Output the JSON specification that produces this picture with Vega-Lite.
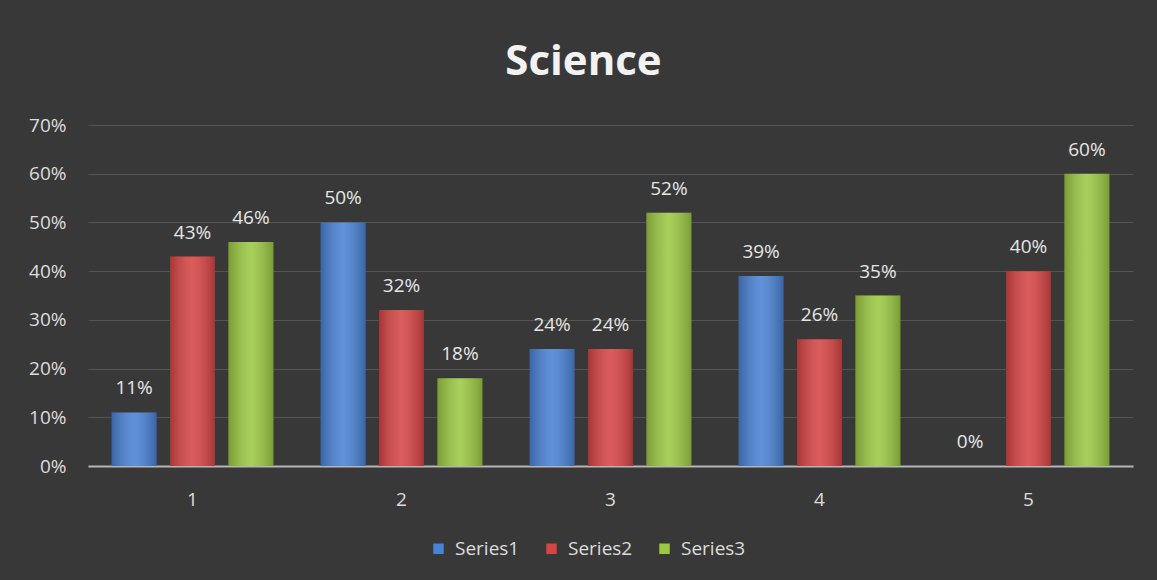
{
  "$schema": "https://vega.github.io/schema/vega-lite/v6.json",
  "width": 1045,
  "height": 341,
  "autosize": {"type": "none"},
  "padding": {"left": 88, "top": 125, "right": 24, "bottom": 114},
  "background": "#383838",
  "config": {"view": {"stroke": null}},
  "title": {
    "text": "Science",
    "fontSize": 42,
    "fontWeight": "bold",
    "font": "Open Sans",
    "color": "#f2f2f2",
    "anchor": "middle",
    "dx": -27,
    "offset": 32
  },
  "data": {
    "values": [
      {"cat": "1", "series": "Series1", "value": 0.11},
      {"cat": "1", "series": "Series2", "value": 0.43},
      {"cat": "1", "series": "Series3", "value": 0.46},
      {"cat": "2", "series": "Series1", "value": 0.50},
      {"cat": "2", "series": "Series2", "value": 0.32},
      {"cat": "2", "series": "Series3", "value": 0.18},
      {"cat": "3", "series": "Series1", "value": 0.24},
      {"cat": "3", "series": "Series2", "value": 0.24},
      {"cat": "3", "series": "Series3", "value": 0.52},
      {"cat": "4", "series": "Series1", "value": 0.39},
      {"cat": "4", "series": "Series2", "value": 0.26},
      {"cat": "4", "series": "Series3", "value": 0.35},
      {"cat": "5", "series": "Series1", "value": 0.0},
      {"cat": "5", "series": "Series2", "value": 0.40},
      {"cat": "5", "series": "Series3", "value": 0.60}
    ]
  },
  "encoding": {
    "x": {
      "field": "cat",
      "type": "nominal",
      "scale": {"paddingInner": 0.226, "paddingOuter": 0.113},
      "axis": {
        "title": null,
        "labelAngle": 0,
        "labelFontSize": 19,
        "labelFont": "Open Sans",
        "labelColor": "#dddddd",
        "labelPadding": 24,
        "ticks": false,
        "domainColor": "#b5b5b5",
        "domainWidth": 2,
        "grid": false
      }
    },
    "xOffset": {
      "field": "series",
      "type": "nominal",
      "scale": {"paddingInner": 0.23, "paddingOuter": 0}
    },
    "y": {
      "field": "value",
      "type": "quantitative",
      "scale": {"domain": [0, 0.7], "nice": false},
      "axis": {
        "title": null,
        "values": [0, 0.1, 0.2, 0.3, 0.4, 0.5, 0.6, 0.7],
        "format": ".0%",
        "labelFontSize": 19,
        "labelFont": "Open Sans",
        "labelColor": "#dddddd",
        "labelPadding": 22,
        "ticks": false,
        "domain": false,
        "grid": true,
        "gridColor": "#555555",
        "gridWidth": 1
      }
    }
  },
  "layer": [
    {
      "mark": {"type": "bar"},
      "encoding": {
        "color": {
          "field": "series",
          "type": "nominal",
          "scale": {"domain": ["Series1", "Series2", "Series3"], "range": ["#4a82d4", "#d64545", "#9cc844"]},
          "legend": {
            "title": null,
            "orient": "none",
            "direction": "horizontal",
            "legendX": 341,
            "legendY": 414,
            "symbolType": "square",
            "symbolSize": 110,
            "symbolStrokeWidth": 0,
            "labelFontSize": 19,
            "labelFont": "Open Sans",
            "labelColor": "#dddddd",
            "columnPadding": 22,
            "labelOffset": 7
          }
        }
      }
    },
    {
      "mark": {
        "type": "bar",
        "fill": {
          "gradient": "linear",
          "x1": 0, "y1": 0, "x2": 1, "y2": 0,
          "stops": [
            {"offset": 0, "color": "rgba(0,0,0,0.22)"},
            {"offset": 0.5, "color": "rgba(255,255,255,0.12)"},
            {"offset": 1, "color": "rgba(0,0,0,0.22)"}
          ]
        }
      }
    },
    {
      "mark": {
        "type": "text",
        "dy": -24,
        "fontSize": 19,
        "font": "Open Sans",
        "color": "#e6e6e6",
        "baseline": "middle"
      },
      "encoding": {
        "text": {"field": "value", "type": "quantitative", "format": ".0%"}
      }
    }
  ]
}
